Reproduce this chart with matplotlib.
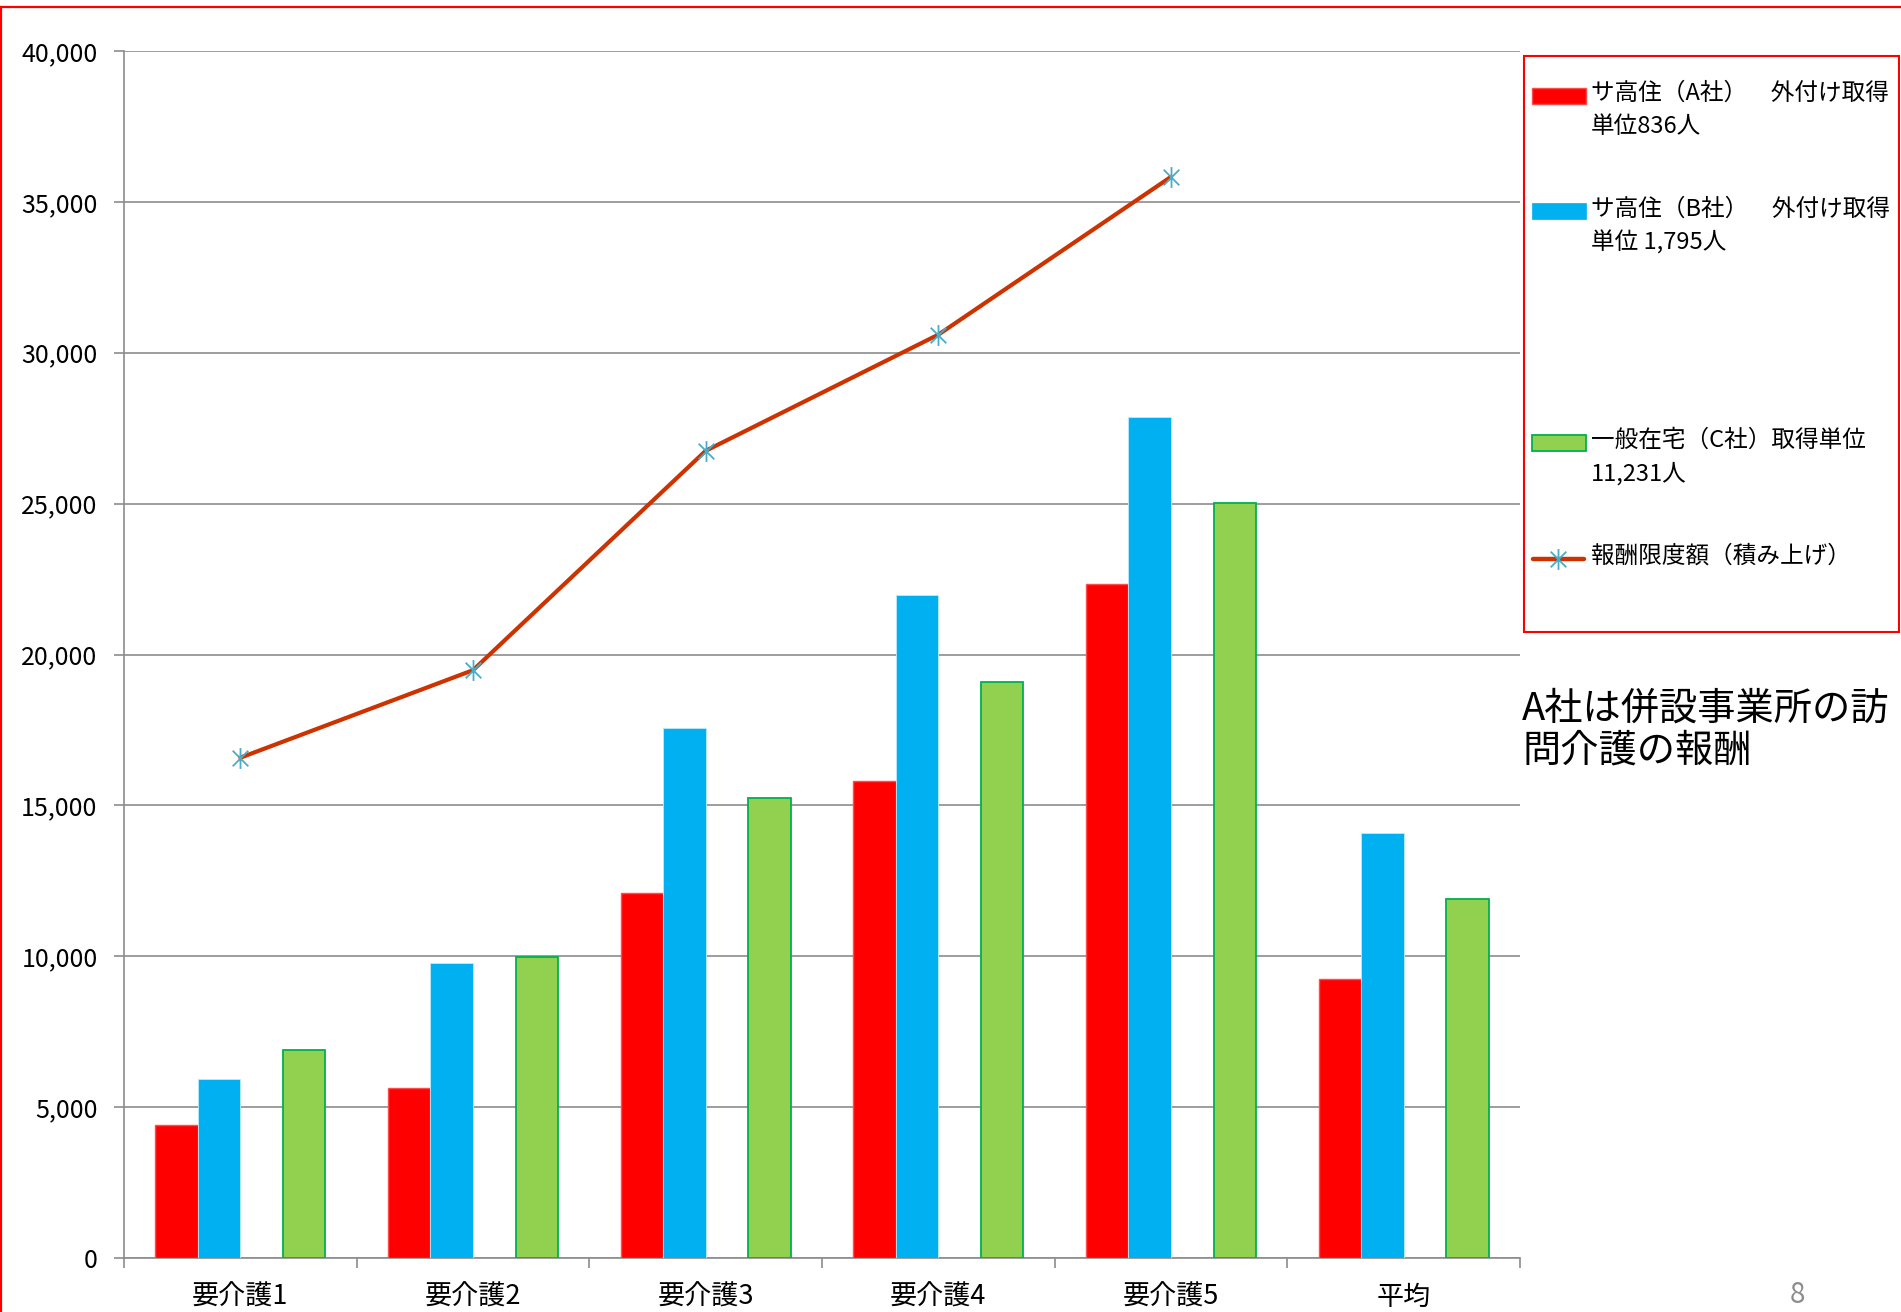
import numpy as np
import matplotlib
matplotlib.use("Agg")
import matplotlib.pyplot as plt
from matplotlib.path import Path
from matplotlib.patches import Rectangle
from matplotlib.lines import Line2D
from matplotlib.ticker import FuncFormatter

plt.rcParams['font.family'] = ['Noto Sans CJK JP', 'DejaVu Sans']

# ---------------- data ----------------
categories = ["要介護1", "要介護2", "要介護3", "要介護4", "要介護5", "平均"]
company_a = [4410, 5620, 12090, 15820, 22330, 9240]
company_b = [5930, 9760, 17550, 21970, 27870, 14100]
company_c = [6880, 9980, 15260, 19080, 25020, 11890]
limit_categories = ["要介護1", "要介護2", "要介護3", "要介護4", "要介護5"]
limit_values = [16580, 19480, 26750, 30600, 35830]

label_a = "サ高住（A社）　外付け取得\n単位836人"
label_b = "サ高住（B社）　外付け取得\n単位 1,795人"
label_c = "一般在宅（C社）取得単位\n11,231人"
label_line = "報酬限度額（積み上げ）"
note_text = "A社は併設事業所の訪\n問介護の報酬"
page_number = "8"
yticks = [0, 5000, 10000, 15000, 20000, 25000, 30000, 35000, 40000]

# ---------------- styles ----------------
RED = "#FF0000"
BLUE = "#00B0F0"
GREEN = "#92D050"
GREEN_EDGE = "#00B050"
LINE_COL = "#CC3300"
MARK_COL = "#4BACC6"
GRID = "#8C8C8C"

W, H = 1901, 1312
fig = plt.figure(figsize=(W / 100, H / 100), dpi=100)

def fx(x):
    return x / W

def fy(y):
    return 1 - y / H

ax = fig.add_axes([fx(124), fy(1258), fx(1520) - fx(124), fy(51) - fy(1258)])

x = np.arange(len(categories))
bw = 0.183
ax.bar(x - 1.5 * bw, company_a, width=bw, color=RED, edgecolor="#FF4D4D", linewidth=1.0, zorder=3)
ax.bar(x - 0.5 * bw, company_b, width=bw, color=BLUE, edgecolor="#BDEBFB", linewidth=0.6, zorder=3)
ax.bar(x + 1.5 * bw, company_c, width=bw, color=GREEN, edgecolor=GREEN_EDGE, linewidth=1.3, zorder=3)

# asterisk marker: vertical bar + X
star = Path([(0, -1), (0, 1), (-0.75, -0.75), (0.75, 0.75), (-0.75, 0.75), (0.75, -0.75)],
            [Path.MOVETO, Path.LINETO, Path.MOVETO, Path.LINETO, Path.MOVETO, Path.LINETO])

lx = [categories.index(c) for c in limit_categories]
ax.plot(lx, limit_values, color=LINE_COL, linewidth=3.0, zorder=4, solid_capstyle="round")
ax.plot(lx, limit_values, linestyle="none", marker=star, markersize=15,
        markeredgecolor=MARK_COL, markerfacecolor="none", markeredgewidth=1.3, zorder=5)

ax.set_xlim(-0.5, len(categories) - 0.5)
ax.set_ylim(0, 40000)
ax.set_yticks(yticks)
ax.yaxis.set_major_formatter(FuncFormatter(lambda v, p: f"{int(v):,}"))
ax.grid(axis="y", color=GRID, linewidth=1.2, zorder=0)
ax.set_axisbelow(True)

# x ticks: marks at boundaries, labels at centers
ax.set_xticks(np.arange(-0.5, len(categories), 1.0))
ax.set_xticklabels([])
ax.set_xticks(x, minor=True)
ax.set_xticklabels(categories, minor=True, fontsize=19.5)
ax.tick_params(axis="x", which="major", length=7, width=1.2, color=GRID, direction="out")
ax.tick_params(axis="x", which="minor", length=0, pad=18.5)
ax.tick_params(axis="y", length=7, width=1.2, color=GRID, direction="out", labelsize=18, pad=12)

for s in ["top", "right"]:
    ax.spines[s].set_visible(False)
for s in ["left", "bottom"]:
    ax.spines[s].set_color(GRID)
    ax.spines[s].set_linewidth(1.2)

# ---------------- legend (drawn manually to match layout) ----------------
fig.add_artist(Rectangle((fx(1524), fy(632)), fx(1899) - fx(1524), fy(56) - fy(632),
                         transform=fig.transFigure, facecolor="white", edgecolor=RED, linewidth=1.5))

def legend_patch(yc, face, edge, lw):
    fig.add_artist(Rectangle((fx(1532), fy(yc + 8)), fx(1586) - fx(1532), fy(yc - 8) - fy(yc + 8),
                             transform=fig.transFigure, facecolor=face, edgecolor=edge, linewidth=lw))

def legend_text(y_center, txt):
    fig.text(fx(1591), fy(y_center), txt, fontsize=17, va="center", ha="left",
             linespacing=1.53, transform=fig.transFigure)

legend_patch(96, RED, "#FF4D4D", 1.0)
legend_patch(211, BLUE, BLUE, 0.5)
legend_patch(443, GREEN, GREEN_EDGE, 1.3)
legend_text(110, label_a)
legend_text(226, label_b)
legend_text(457, label_c)
fig.add_artist(Line2D([fx(1533), fx(1584)], [fy(559), fy(559)], transform=fig.transFigure,
                      color=LINE_COL, linewidth=3.2, solid_capstyle="round"))
fig.add_artist(Line2D([fx(1558)], [fy(559)], transform=fig.transFigure, linestyle="none",
                      marker=star, markersize=15, markeredgecolor=MARK_COL,
                      markerfacecolor="none", markeredgewidth=1.3))
fig.text(fx(1591), fy(556), label_line, fontsize=17, va="center", ha="left")

# annotation
fig.text(fx(1522), fy(730), note_text, fontsize=27.5, va="center", ha="left", linespacing=1.1)

# page number
fig.text(fx(1797), fy(1295), page_number, fontsize=20, color="#8C8C8C", va="center", ha="center")

# outer slide frame (top and left edges)
fig.add_artist(Line2D([0, 1], [fy(7), fy(7)], transform=fig.transFigure, color=RED, linewidth=1.6))
fig.add_artist(Line2D([fx(1), fx(1)], [0, fy(7)], transform=fig.transFigure, color=RED, linewidth=1.6))

fig.savefig("out.png", dpi=100, facecolor="white")
